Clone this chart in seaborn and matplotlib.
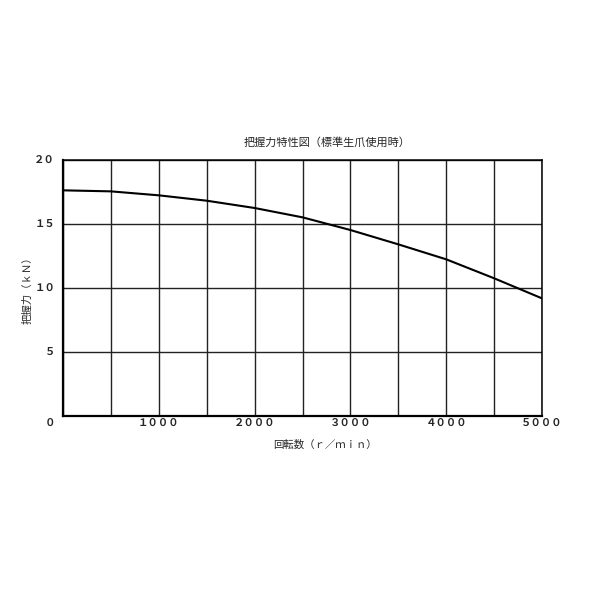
import matplotlib
matplotlib.use("Agg")
import matplotlib.pyplot as plt
import seaborn as sns
import pandas as pd
import matplotlib.transforms as mtransforms

rpm = [0, 500, 1000, 1500, 2000, 2500, 3000, 3500, 4000, 4500, 5000]
force_kn = [17.63, 17.55, 17.24, 16.82, 16.25, 15.52, 14.53, 13.41, 12.24, 10.76, 9.19]
x_ticks = [1000, 2000, 3000, 4000, 5000]
x_tick_labels = ["１０００", "２０００", "３０００", "４０００", "５０００"]
y_ticks = [5, 10, 15, 20]
y_tick_labels = ["５", "１０", "１５", "２０"]
title = "把握力特性図（標準生爪使用時）"
xlabel = "回転数（ｒ／ｍｉｎ）"
ylabel = "把握力（ｋＮ）"

sns.set_theme(style="white")
plt.rcParams['font.family'] = ['Noto Sans CJK JP', 'DejaVu Sans']

df = pd.DataFrame({"rpm": rpm, "force": force_kn})

fig = plt.figure(figsize=(6, 6), dpi=100)
ax = fig.add_axes([63/600, 184/600, 479/600, 256/600])
sns.lineplot(data=df, x="rpm", y="force", ax=ax, color="black", linewidth=1.5)

ax.set_xlim(0, 5000)
ax.set_ylim(0, 20)
ax.set_xticks(range(0, 5001, 500))
ax.set_yticks([0, 5, 10, 15, 20])
ax.grid(True, color="#222222", linewidth=1.0)
ax.set_xticklabels([])
ax.set_yticklabels([])
ax.tick_params(length=0)
for s in ax.spines.values():
    s.set_color("black")
    s.set_linewidth(1.1)
ax.spines["left"].set_linewidth(1.6)
ax.spines["bottom"].set_linewidth(1.6)

fs = 7.5
for t, lab in zip(x_ticks, x_tick_labels):
    ax.text(t, 0, lab, transform=ax.transData + mtransforms.ScaledTranslation(0, -7/100, fig.dpi_scale_trans),
            ha="center", va="center", fontsize=fs, fontweight="bold")
for t, lab in zip(y_ticks, y_tick_labels):
    ax.text(0, t, lab, transform=ax.transData + mtransforms.ScaledTranslation(-8/100, 0, fig.dpi_scale_trans),
            ha="right", va="center", fontsize=fs, fontweight="bold")
ax.text(0, 0, "０", transform=ax.transData + mtransforms.ScaledTranslation(-8/100, -7/100, fig.dpi_scale_trans),
        ha="right", va="center", fontsize=fs, fontweight="bold")

ax.set_xlabel("")
ax.set_ylabel("")
fig.text(327/600, 1 - 142/600, title, ha="center", va="center", fontsize=8)
fig.text(325/600, 1 - 445/600, xlabel, ha="center", va="center", fontsize=7.5)
fig.text(27/600, 1 - 288/600, ylabel, ha="center", va="center", fontsize=7.5, rotation=90)

fig.savefig("out.png", dpi=100, facecolor="white")
